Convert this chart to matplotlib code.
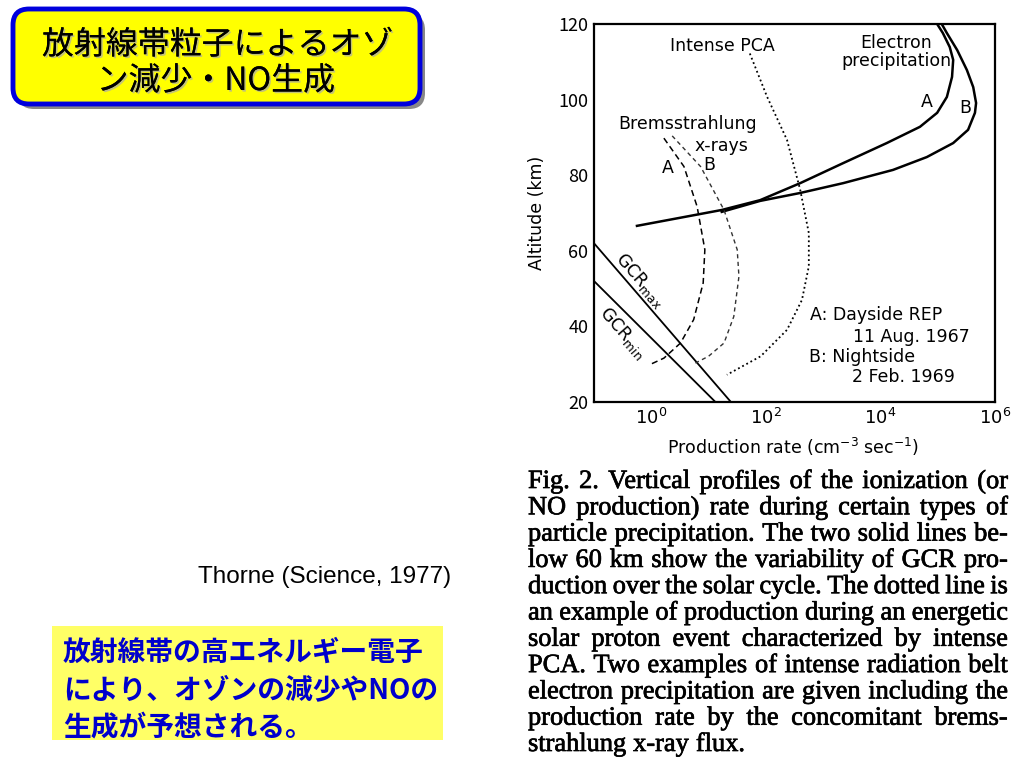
import numpy as np
import matplotlib
matplotlib.use("Agg")
from matplotlib import pyplot as plt
from matplotlib.patches import FancyBboxPatch, Rectangle
import matplotlib.patheffects as pe

plt.rcParams['font.family'] = ['Noto Sans CJK JP', 'DejaVu Sans']

# ---- data (rate in cm^-3 s^-1 as log10, altitude km) ----
gcr_max_log = [-1.0, 1.39]
gcr_max_alt = [62.0, 20.0]
gcr_min_log = [-1.0, 1.12]
gcr_min_alt = [52.0, 20.0]

elec_a_log = [-0.25, 1.23, 1.90, 2.60, 3.35, 4.11, 4.69, 4.99, 5.16, 5.25, 5.27, 5.21, 5.09, 4.99]
elec_a_alt = [66.6, 70.8, 73.4, 77.9, 83.2, 88.5, 92.8, 96.5, 100.7, 106.0, 110.5, 113.9, 117.6, 120.0]

elec_b_log = [1.23, 1.90, 2.60, 3.35, 4.22, 4.81, 5.27, 5.53, 5.65, 5.67, 5.62, 5.51, 5.34, 5.16, 5.07]
elec_b_alt = [70.3, 73.2, 75.3, 77.9, 81.4, 84.8, 88.5, 92.0, 96.5, 99.1, 103.3, 107.8, 113.1, 117.6, 120.0]

brems_a_log = [0.22, 0.57, 0.80, 0.935, 0.906, 0.74, 0.51, 0.22, -0.024]
brems_a_alt = [89.8, 82.3, 71.7, 60.3, 51.5, 41.8, 35.6, 31.6, 29.9]

brems_b_log = [0.365, 0.86, 1.27, 1.50, 1.53, 1.44, 1.27, 1.00, 0.77]
brems_b_alt = [90.4, 82.3, 70.8, 60.3, 53.2, 42.6, 35.6, 32.1, 30.3]

pca_log = [1.72, 2.02, 2.37, 2.60, 2.75, 2.75, 2.63, 2.37, 1.91, 1.32]
pca_alt = [112.2, 100.8, 89.3, 76.1, 64.7, 55.9, 47.0, 39.1, 32.1, 27.2]

x_ticks = [1e0, 1e2, 1e4, 1e6]
x_tick_labels = [r'$10^0$', r'$10^2$', r'$10^4$', r'$10^6$']
y_ticks = [20, 40, 60, 80, 100, 120]

title_lines = ["放射線帯粒子によるオゾ", "ン減少・NO生成"]
note_lines = ["放射線帯の高エネルギー電子", "により、オゾンの減少やNOの", "生成が予想される。"]
source_text = "Thorne (Science, 1977)"
caption_lines = [
    "Fig. 2. Vertical profiles of the ionization (or",
    "NO production) rate during certain types of",
    "particle precipitation. The two solid lines be-",
    "low 60 km show the variability of GCR pro-",
    "duction over the solar cycle. The dotted line is",
    "an example of production during an energetic",
    "solar proton event characterized by intense",
    "PCA. Two examples of intense radiation belt",
    "electron precipitation are given including the",
    "production rate by the concomitant brems-",
    "strahlung x-ray flux.",
]

fig = plt.figure(figsize=(10.24, 7.68), dpi=100)

# background axes in pixel units for the slide elements
bg = fig.add_axes([0, 0, 1, 1])
bg.set_xlim(0, 1024)
bg.set_ylim(768, 0)
bg.axis('off')

# title box with shadow
bg.add_patch(FancyBboxPatch((18, 14), 407, 95, boxstyle="round,pad=0,rounding_size=16",
                            fc='#888888', ec='none'))
bg.add_patch(FancyBboxPatch((13, 9), 407, 95, boxstyle="round,pad=0,rounding_size=16",
                            fc='#ffff00', ec='#0000dd', lw=3.5))
shadow = [pe.withSimplePatchShadow(offset=(1.2, -1.2), shadow_rgbFace='#aaaaaa', alpha=0.7), pe.Normal()]
bg.text(218, 45, title_lines[0], fontsize=23, ha='center', va='center', color='black', path_effects=shadow)
bg.text(216, 81, title_lines[1], fontsize=23, ha='center', va='center', color='black', path_effects=shadow)

# note box
bg.add_patch(Rectangle((52, 626), 391, 114, fc='#ffff66', ec='none'))
for i, line in enumerate(note_lines):
    bg.text(63, 653 + i * 37, line, fontsize=20, fontweight='bold', ha='left', va='center', color='#0000cc')

bg.text(325, 577, source_text, fontsize=17.5, ha='center', va='center',
        family=['Liberation Sans', 'DejaVu Sans'])

# caption, justified
renderer = fig.canvas.get_renderer()
cap_font = dict(fontsize=19, family=['Liberation Serif', 'DejaVu Serif'], va='center', ha='left',
                path_effects=[pe.withStroke(linewidth=0.5, foreground='black')])
x0, x1 = 528, 1008
for i, line in enumerate(caption_lines):
    y = 482 + i * 26.3
    words = line.split()
    texts = [bg.text(x0, y, w, **cap_font) for w in words]
    widths = [t.get_window_extent(renderer).width for t in texts]
    if i == len(caption_lines) - 1 or len(words) == 1:
        gap = 7
    else:
        gap = (x1 - x0 - sum(widths)) / (len(words) - 1)
    x = x0
    for t, w in zip(texts, widths):
        t.set_x(x)
        x += w + gap

# ---- the chart ----
ax = fig.add_axes([594 / 1024, 1 - 402 / 768, 401 / 1024, 378 / 768])
ax.set_xscale('log')
ax.set_xlim(1e-1, 1e6)
ax.set_ylim(20, 120)

def rate(v):
    return np.power(10.0, v)

ax.plot(rate(gcr_max_log), gcr_max_alt, color='black', lw=1.3)
ax.plot(rate(gcr_min_log), gcr_min_alt, color='black', lw=1.3)
ax.plot(rate(elec_a_log), elec_a_alt, color='black', lw=1.8)
ax.plot(rate(elec_b_log), elec_b_alt, color='black', lw=1.8)
ax.plot(rate(brems_a_log), brems_a_alt, color='black', lw=1.1, dashes=(4, 2.5))
ax.plot(rate(brems_b_log), brems_b_alt, color='#333333', lw=1.0, dashes=(3, 2.5))
ax.plot(rate(pca_log), pca_alt, color='black', lw=1.3, dashes=(1, 1.6))

ax.set_xticks(x_ticks)
ax.set_xticklabels(x_tick_labels)
ax.minorticks_off()
ax.set_yticks(y_ticks)
ax.tick_params(length=0, labelsize=13, pad=4)
for s in ax.spines.values():
    s.set_linewidth(1.6)

lab = dict(fontsize=12.5, family=['DejaVu Sans'], color='black')
ax.text(rate(0.33), 114.2, 'Intense PCA', ha='left', va='center', **lab)
ax.text(rate(4.28), 112.6, 'Electron\nprecipitation', ha='center', va='center', linespacing=0.95, **lab)
ax.text(rate(4.81), 99.4, 'A', ha='center', va='center', **lab)
ax.text(rate(5.48), 97.8, 'B', ha='center', va='center', **lab)
ax.text(rate(-0.58), 93.5, 'Bremsstrahlung', ha='left', va='center', **lab)
ax.text(rate(0.76), 87.7, 'x-rays', ha='left', va='center', **lab)
ax.text(rate(0.29), 81.9, 'A', ha='center', va='center', **lab)
ax.text(rate(1.02), 82.7, 'B', ha='center', va='center', **lab)
ax.text(rate(-0.20), 52.3, r'GCR$_{\mathrm{max}}$', rotation=-49, ha='center', va='center', **lab)
ax.text(rate(-0.50), 38.3, r'GCR$_{\mathrm{min}}$', rotation=-49, ha='center', va='center', **lab)
ax.text(rate(2.77), 43.0, 'A: Dayside REP', ha='left', va='center', **lab)
ax.text(rate(3.52), 37.2, '11 Aug. 1967', ha='left', va='center', **lab)
ax.text(rate(2.75), 31.9, 'B: Nightside', ha='left', va='center', **lab)
ax.text(rate(3.50), 26.6, '2 Feb. 1969', ha='left', va='center', **lab)

bg.text(537, 213, 'Altitude (km)', rotation=90, ha='center', va='center', **lab)
bg.text(793, 447, r'Production rate (cm$^{-3}$ sec$^{-1}$)', ha='center', va='center', **lab)

fig.savefig('out.png', dpi=100)
